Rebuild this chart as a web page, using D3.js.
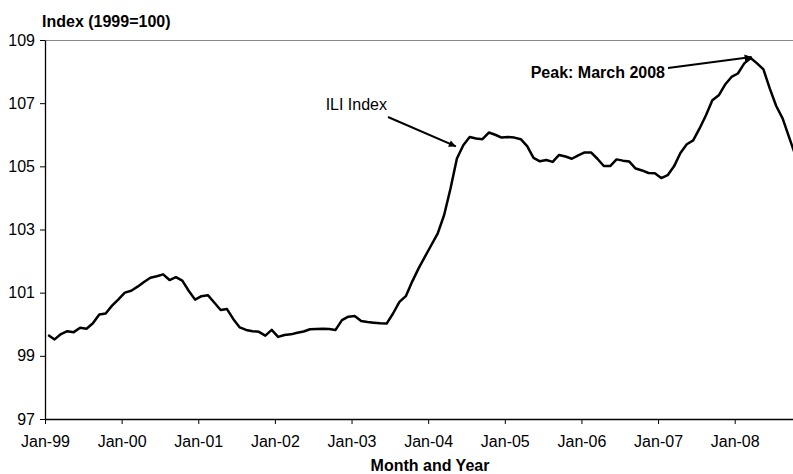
<!DOCTYPE html>
<html>
<head>
<meta charset="utf-8">
<script src="https://cdn.jsdelivr.net/npm/d3@7"></script>
<style>
  html, body { margin: 0; padding: 0; background: #fff; }
  svg { display: block; font-family: "Liberation Sans", Arial, sans-serif; }
</style>
</head>
<body>
<svg id="chart" width="793" height="474"></svg>
<script>
// ---- Data ----
const startYear = 1999;
const tickLabels = ["Jan-99","Jan-00","Jan-01","Jan-02","Jan-03","Jan-04","Jan-05","Jan-06","Jan-07","Jan-08"];
const yTicks = [97, 99, 101, 103, 105, 107, 109];
// Monthly ILI index, Jan-1999 .. Oct-2008
const iliValues = [
  99.66, 99.52, 99.69, 99.78, 99.75, 99.89, 99.86, 100.03, 100.31, 100.34, 100.59, 100.79,
  101.00, 101.06, 101.19, 101.34, 101.47, 101.52, 101.58, 101.40, 101.49, 101.38, 101.06, 100.78,
  100.89, 100.92, 100.69, 100.45, 100.48, 100.16, 99.90, 99.82, 99.78, 99.76, 99.64, 99.82,
  99.60, 99.66, 99.68, 99.73, 99.77, 99.84, 99.85, 99.86, 99.85, 99.82, 100.13, 100.24,
  100.26, 100.10, 100.07, 100.05, 100.03, 100.02, 100.34, 100.71, 100.89, 101.35, 101.77, 102.14,
  102.51, 102.88, 103.46, 104.30, 105.25, 105.67, 105.93, 105.88, 105.86, 106.07, 106.00, 105.91,
  105.93, 105.91, 105.86, 105.64, 105.27, 105.16, 105.20, 105.14, 105.36, 105.31, 105.24, 105.35,
  105.44, 105.44, 105.24, 105.01, 105.01, 105.22, 105.18, 105.15, 104.93, 104.87, 104.79, 104.78,
  104.63, 104.72, 105.00, 105.42, 105.70, 105.82, 106.20, 106.62, 107.09, 107.25, 107.59, 107.83,
  107.94, 108.26, 108.43, 108.26, 108.07, 107.46, 106.91, 106.52, 105.93, 105.35
];
const peakIndex = 110; // March 2008

// ---- Layout ----
const svg = d3.select("#chart");
const mLeft = 45, mTop = 40, mBottom = 419;
const monthStep = (734.7 - mLeft) / 108;
const x = d3.scaleLinear().domain([0, iliValues.length]).range([mLeft, mLeft + iliValues.length * monthStep]);
const y = d3.scaleLinear().domain([97, 109]).range([mBottom, mTop]);

// top border of plot area
svg.append("line")
  .attr("x1", mLeft).attr("x2", 800).attr("y1", mTop + 0.5).attr("y2", mTop + 0.5)
  .attr("stroke", "#888").attr("stroke-width", 1);

// Y axis
const yAxis = svg.append("g")
  .attr("transform", `translate(${mLeft},0)`)
  .call(d3.axisLeft(y).tickValues(yTicks).tickSize(5).tickSizeOuter(0).tickPadding(5));
yAxis.select(".domain").attr("stroke", "#000").attr("stroke-width", 1.3);
yAxis.selectAll(".tick line").attr("stroke", "#000");
yAxis.selectAll("text").attr("font-size", 16).attr("fill", "#000")
  .attr("font-family", '"Liberation Sans", Arial, sans-serif');

// X axis
const xAxis = svg.append("g")
  .attr("transform", `translate(0,${mBottom})`)
  .call(d3.axisBottom(x)
    .tickValues(tickLabels.map((d, i) => i * 12))
    .tickFormat((d, i) => tickLabels[i])
    .tickSize(5).tickSizeOuter(0).tickPadding(12));
xAxis.select(".domain").attr("stroke", "#000").attr("stroke-width", 1.3);
xAxis.selectAll(".tick line").attr("stroke", "#000");
xAxis.selectAll("text").attr("font-size", 16).attr("fill", "#000")
  .attr("font-family", '"Liberation Sans", Arial, sans-serif');

// Line
const line = d3.line()
  .x((d, i) => x(i + 0.5))
  .y(d => y(d));
svg.append("path")
  .datum(iliValues)
  .attr("fill", "none")
  .attr("stroke", "#000")
  .attr("stroke-width", 2.5)
  .attr("stroke-linejoin", "round")
  .attr("d", line);

// Titles
svg.append("text")
  .attr("x", 42).attr("y", 27)
  .attr("font-size", 16).attr("font-weight", "bold")
  .text("Index (1999=100)");
svg.append("text")
  .attr("x", 430).attr("y", 471)
  .attr("text-anchor", "middle")
  .attr("font-size", 16).attr("font-weight", "bold")
  .text("Month and Year");

// Arrow marker
svg.append("defs").append("marker")
  .attr("id", "arrow")
  .attr("viewBox", "0 0 10 10")
  .attr("refX", 10).attr("refY", 5)
  .attr("markerWidth", 9).attr("markerHeight", 7)
  .attr("markerUnits", "userSpaceOnUse")
  .attr("orient", "auto")
  .append("path").attr("d", "M0,0 L10,5 L0,10 Z").attr("fill", "#000");

// ILI Index annotation
svg.append("text")
  .attr("x", 387).attr("y", 110)
  .attr("text-anchor", "end")
  .attr("font-size", 16)
  .text("ILI Index");
svg.append("line")
  .attr("x1", 388).attr("y1", 117)
  .attr("x2", x(64 + 0.5) - 1).attr("y2", y(iliValues[64]) - 12)
  .attr("stroke", "#000").attr("stroke-width", 2)
  .attr("marker-end", "url(#arrow)");

// Peak annotation
svg.append("text")
  .attr("x", 665).attr("y", 78)
  .attr("text-anchor", "end")
  .attr("font-size", 16).attr("font-weight", "bold")
  .text("Peak: March 2008");
svg.append("line")
  .attr("x1", 668).attr("y1", 68)
  .attr("x2", x(peakIndex + 0.5) + 1).attr("y2", y(iliValues[peakIndex]) - 1)
  .attr("stroke", "#000").attr("stroke-width", 2)
  .attr("marker-end", "url(#arrow)");
</script>
</body>
</html>
